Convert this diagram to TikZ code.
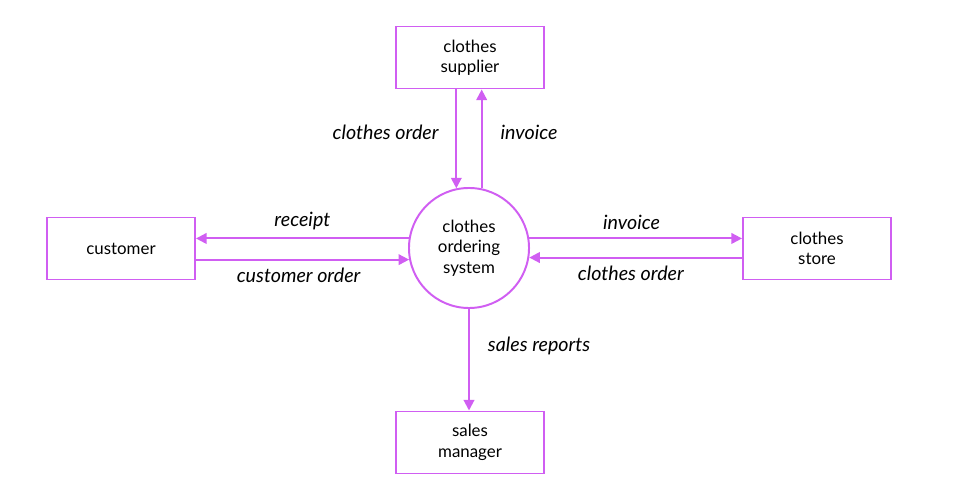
\documentclass[tikz,border=0pt]{standalone}
\usepackage{fontspec}
\setmainfont{Lato}
\usetikzlibrary{arrows.meta,positioning}
\definecolor{dfdviolet}{RGB}{208,94,242}
\tikzset{
    entity/.style={draw=dfdviolet,line width=1.4pt,minimum width=3.7cm,minimum height=1.55cm,align=center,text=black,fill=white,font=\fontsize{12}{14.5}\selectfont},
    process/.style={circle,draw=dfdviolet,line width=1.4pt,minimum size=3cm,inner sep=0pt,align=center,text=black,fill=white,font=\fontsize{12}{14.5}\selectfont},
    flow/.style={draw=dfdviolet,line width=1.4pt,-{Triangle[length=7.5pt,width=7.5pt]}},
    flowlabel/.style={font=\fontsize{14}{16}\selectfont\itshape,text=black,inner sep=0pt}
}
\begin{document}
\begin{tikzpicture}[x=0.025cm,y=-0.025cm]
    \useasboundingbox (0,0) rectangle (960,504);
    % process and external entities
    \node[process] (sys) at (469,248) {clothes\\ordering\\system};
    \node[entity] (supplier) at (470,57.5) {clothes\\supplier};
    \node[entity] (customer) at (121,248.5) {customer};
    \node[entity] (store) at (817,248.5) {clothes\\store};
    \node[entity] (manager) at (470,442.5) {sales\\manager};

    % supplier flows
    \draw[flow] (supplier.south -| sys.102) -- (sys.102)
        node[flowlabel,pos=0.43,left=0.42cm] (lblsupord) {clothes order};
    \draw[flow] (sys.78) -- (supplier.south -| sys.78)
        node[flowlabel,pos=0.57,right=0.45cm] (lblsupinv) {invoice};

    % customer flows
    \draw[flow] (sys.171) -- (sys.171 -| customer.east)
        node[flowlabel,midway,above=0.2cm] (lblreceipt) {receipt};
    \draw[flow] (customer.east |- sys.191) -- (sys.191)
        node[flowlabel,midway,below=0.18cm,xshift=-0.1cm] (lblcusord) {customer order};

    % store flows
    \draw[flow] (sys.9) -- (sys.9 -| store.west)
        node[flowlabel,midway,above=0.2cm,xshift=-0.1cm] (lblstoinv) {invoice};
    \draw[flow] (store.west |- sys.351) -- (sys.351)
        node[flowlabel,midway,below=0.18cm,xshift=-0.12cm] (lblstoord) {clothes order};

    % manager flow
    \draw[flow] (sys.south) -- (sys.south |- manager.north)
        node[flowlabel,pos=0.36,right=0.45cm] (lblsales) {sales reports};
\end{tikzpicture}
\end{document}
